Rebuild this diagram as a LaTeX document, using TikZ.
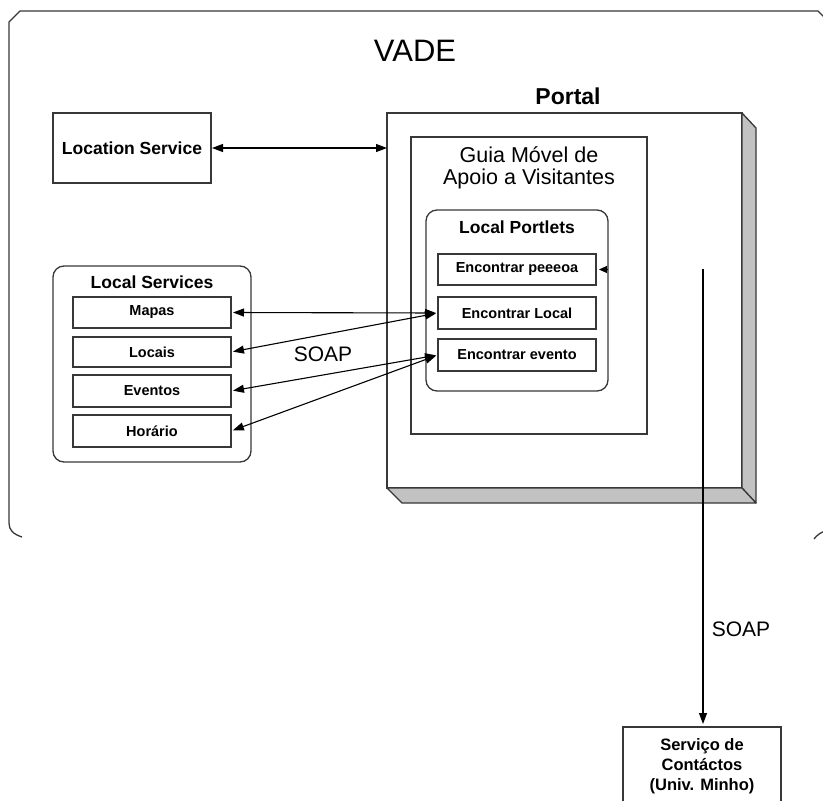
\documentclass[tikz,border=0pt]{standalone}
\usepackage{fontspec}
\setmainfont{Liberation Sans}
\usetikzlibrary{arrows.meta}
\definecolor{linec}{gray}{0.22}
\definecolor{shadec}{gray}{0.76}
\newcommand{\itemfont}{\fontsize{14.5}{17}\selectfont\bfseries}
\newcommand{\titlefont}{\fontsize{17.5}{21}\selectfont\bfseries}
\tikzset{
  box/.style={draw=linec, line width=1.3, fill=white, inner sep=0pt, outer sep=0pt, font=\itemfont},
  rbox/.style={box, rounded corners=11pt},
  shadebox/.style={draw=linec, line width=1.3, fill=shadec, line join=round},
  frame/.style={draw=linec, line width=1.3},
  conn/.style={draw=black, line width=1.1},
  arr/.style={conn, -{Triangle[length=11pt,width=8pt]}},
  darr/.style={conn, {Triangle[length=11pt,width=8pt]}-{Triangle[length=11pt,width=8pt]}},
  lbl/.style={inner sep=0pt, font=\fontsize{21}{24}\selectfont},
}
\begin{document}
\begin{tikzpicture}[x=1pt,y=-1pt]
\useasboundingbox (0,0) rectangle (823,801);
\clip (0,0) rectangle (823,801);
\fill[white] (0,0) rectangle (823,801);

% outer VADE frame
\draw[frame] (22,537) .. controls (13,534) and (9,530) .. (9,523) -- (9,22) -- (20,11) -- (818,11) -- (826,19);
\draw[frame] (814,539) .. controls (817,535) and (820,533) .. (825,531);
\node[lbl, font=\fontsize{31}{36}\selectfont] (vade) at (415,51) {VADE};

% Location service
\node[box, font=\titlefont, minimum width=158, minimum height=70] (loc) at (132,148) {Location Service};

% Portal
\node[font=\fontsize{23}{27}\selectfont\bfseries, inner sep=0pt] (portallbl) at (568,96) {Portal};
\node[box, minimum width=355, minimum height=375] (portal) at (564.5,300.5) {};
\filldraw[shadebox] (portal.north east) -- ++(14,15) -- ++(0,375) -- (portal.south east) -- cycle;
\filldraw[shadebox] (portal.south west) -- (portal.south east) -- ++(14,15) -- ++(-354,0) -- cycle;

% Guia
\node[box, minimum width=236, minimum height=297] (guia) at (529,285.5) {};
\node[align=center, inner sep=0pt, font=\fontsize{21.5}{22}\selectfont] (guiat) at (529,168) {Guia Móvel de\\Apoio a Visitantes};

% Local portlets
\node[rbox, minimum width=182, minimum height=181] (portlets) at (517,300.5) {};
\node[inner sep=0pt, font=\titlefont] (portletst) at (517,227) {Local Portlets};
\node[box, minimum width=158, minimum height=31] (pe) at (517,269.5) {Encontrar peeeoa};
\node[box, minimum width=158, minimum height=32] (el) at (517,313) {Encontrar Local};
\node[box, minimum width=158, minimum height=32] (ev) at (517,355) {Encontrar evento};

% Local services
\node[rbox, minimum width=198, minimum height=196] (services) at (152,364) {};
\node[inner sep=0pt, font=\titlefont] (servicest) at (152,282) {Local Services};
\node[box, minimum width=158, minimum height=31] (mapas) at (152,312.5) {Mapas};
\node[box, minimum width=158, minimum height=30] (locais) at (152,352) {Locais};
\node[box, minimum width=158, minimum height=32] (eventos) at (152,391) {Eventos};
\node[box, minimum width=158, minimum height=32] (horario) at (152,431) {Horário};

% Serviço de contactos
\node[box, align=center, font=\fontsize{16.5}{20}\selectfont\bfseries, minimum width=158, minimum height=78] (serv) at (702,766) {Serviço de\\Contáctos\\(Univ. Minho)};

% connectors
\draw[darr, shorten <=1pt] (loc.east) -- (loc.east -| portal.west);
\draw[darr, shorten <=2pt, shorten >=2pt] (mapas.east) -- (el.west);
\draw[darr, shorten <=2pt, shorten >=2pt] (locais.east) -- (el.west);
\draw[darr, shorten <=2pt, shorten >=2pt] (eventos.east) -- (ev.west);
\draw[darr, shorten <=2pt, shorten >=2pt] (horario.east) -- (ev.west);
\draw[conn, -{Triangle[length=8pt,width=7pt]}, shorten >=3pt] (portlets.east |- pe.east) -- (pe.east);

\coordinate (soaptop) at (703,269);
\draw[arr, shorten >=3pt] (soaptop) -- (soaptop |- serv.north);
\node[lbl] (soap2) at (741,629) {SOAP};
\node[lbl] (soap1) at (323,354) {SOAP};
\end{tikzpicture}
\end{document}
